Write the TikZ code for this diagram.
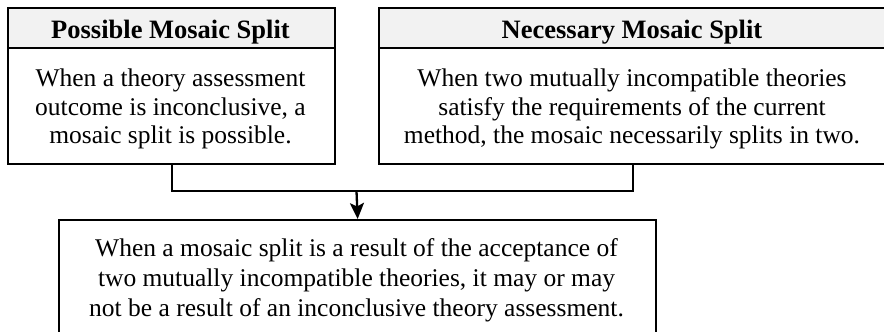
\documentclass[tikz,border=0pt]{standalone}
\usepackage{fontspec}
\setmainfont{Liberation Serif}
\usetikzlibrary{arrows.meta}
\definecolor{headgray}{HTML}{F2F2F2}
\begin{document}
\begin{tikzpicture}[x=1pt,y=-1pt,
  frame/.style={draw=black, line width=2.3pt, rectangle, inner sep=0pt, anchor=north west},
  headbox/.style={frame, fill=headgray, minimum height=40pt},
  bodybox/.style={frame, fill=white},
  headtext/.style={font=\fontsize{26.5}{28.5}\selectfont\bfseries, inner sep=0pt, anchor=base},
  bodytext/.style={font=\fontsize{25.5}{28.5}\selectfont, align=center, inner sep=0pt},
  link/.style={draw=black, line width=2.3pt},
  arrowlink/.style={link, -{Stealth[length=16pt,width=14pt,inset=3.5pt]}}
]
\useasboundingbox (0,0) rectangle (884,332);
\clip (0,0) rectangle (884,332);

% Possible mosaic split
\node[bodybox, minimum width=327pt, minimum height=116pt] (pbody) at (7,47) {};
\node[headbox, minimum width=327pt] (phead) at (7,7) {};
\node[headtext] (ptitle) at (170.5,38) {Possible Mosaic Split};
\node[bodytext] (ptext) at (170.5,109) {When a theory assessment\\ outcome is inconclusive, a\\ mosaic split is possible.};

% Necessary mosaic split
\node[bodybox, minimum width=508pt, minimum height=116pt] (nbody) at (378,47) {};
\node[headbox, minimum width=508pt] (nhead) at (378,7) {};
\node[headtext] (ntitle) at (632,38) {Necessary Mosaic Split};
\node[bodytext] (ntext) at (632,109) {When two mutually incompatible theories\\ satisfy the requirements of the current\\ method, the mosaic necessarily splits in two.};

% Consequence
\node[bodybox, minimum width=597pt, minimum height=130pt] (cbody) at (58,219) {};
\node[bodytext, font=\fontsize{25.5}{30}\selectfont] (ctext) at (356.5,280) {When a mosaic split is a result of the acceptance of\\ two mutually incompatible theories, it may or may\\ not be a result of an inconclusive theory assessment.};

% Connectors
\coordinate (j) at (356.5,191);
\draw[link] (pbody.south) -- (pbody.south |- j) -- (nbody.south |- j) -- (nbody.south);
\draw[arrowlink] (j) -- (cbody.north);
\end{tikzpicture}
\end{document}
